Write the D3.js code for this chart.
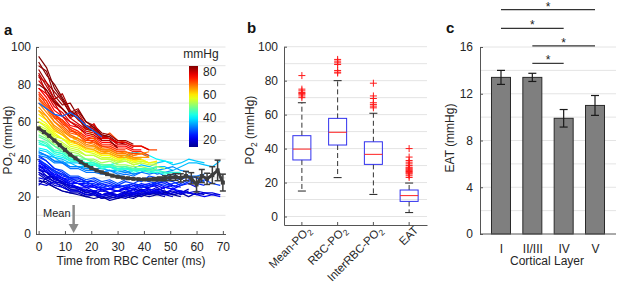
<!DOCTYPE html>
<html>
<head>
<meta charset="utf-8">
<script src="https://cdn.jsdelivr.net/npm/d3@7"></script>
<style>
  body { margin: 0; background: #fff; }
  svg { font-family: "Liberation Sans", Arial, sans-serif; }
</style>
</head>
<body>
<svg id="chart"></svg>
<script>
// ---- panel a: single-vessel PO2 traces vs time from RBC centre ----
const traceStep = 3; // ms between samples
// colour value (mmHg) of each trace, same order as traces
const traceLevel = [
  20, 16, 18, 17, 22, 19, 24, 23, 21, 22, 20, 19, 18, 27, 28, 25, 21, 23, 24, 26, 15, 20,
  37, 36, 33, 32, 40, 31,
  52, 49, 47, 46, 45, 44, 43,
  60, 58, 56, 57, 55, 54,
  76, 74, 73, 72, 70, 68, 67, 66, 65, 64, 71,
  88, 86, 84, 83, 82, 80, 79, 81, 85, 78,
  30
];
const traces = [
  [30,29,26,25,23,23,21,22,20,21,20,22,21,23,22,22,21,22,23,22,23,22,22,21],
  [26,30,31,27,26,25,22,23,21,22,20,21,20,22,22,24,23,21,22,20,22,21],
  [32,29,27,26,23,23,21,21,19,20,19,21,21,20,22,22,23,21,22,24],
  [28,28,25,23,22,22,20,21,19,20,19,21,20,21,22,21,20],
  [35,33,29,28,25,25,23,23,21,22,21,22,21,23,22,23,22,24,22,22,21,20,21,20],
  [33,30,28,27,24,23,21,22,20,19,20,19,21,22,21,23,21,20],
  [40,36,34,31,30,28,28,26,27,25,26,25,27,26,25,27,28,26,25],
  [38,36,33,30,29,27,27,25,25,24,25,24,26,25,26,27,25,24,26,27,25],
  [37,33,31,29,27,27,25,25,23,24,23,25,24,26,24,23,25,26],
  [36,34,30,28,27,25,25,23,24,22,23,24,23,25,25,26,24],
  [35,31,30,27,26,24,24,22,23,22,23,22,24,23,25],
  [34,33,29,28,25,25,23,23,21,22,21,23,22,24,23,25,22,23,21,23],
  [33,31,28,27,24,24,22,23,21,21,20,22,22,24,21,22,21],
  [39,37,33,32,30,30,28,29,27,28,26,28,27,29,28,27,29,28,26,28,27,29,27,26],
  [41,39,35,34,31,31,29,30,28,29,27,29,30,28,31,30,28,30,29,31,30,28],
  [42,39,35,33,30,30,28,28,26,27,25,26,25,27,26,28,27,25,27,29,27,26],
  [36,35,31,29,26,25,23,23,21,22,20,22,21,23,22,24],
  [39,35,32,30,28,27,25,26,24,24,23,24,22,23,24,23,25,24,23,22],
  [37,35,31,30,27,27,26,25,25,24,26,25,24,26,27,25],
  [40,37,34,32,29,29,27,27,25,26,25,26,27,25,26,27,26,27,28],
  [29,27,25,23,22,21,20,19,20,18,19,20,19,21,20,21,22,21,20],
  [27,26,28,25,23,23,21,21,20,21,21,20,22,21,23,22,21,22,23,22,21,22,21,21],

  [45,44,41,40,38,38,36,37,35,36,34,35,35,37,36,38,39,37,38,40,39,38],
  [44,42,41,38,38,36,36,35,35,34,34,33,34,35,34,36,36,34,36,38,38,37,36,39],
  [43,42,39,39,36,36,35,35,33,34,33,34,32,33,35,34,35,36,34,33],
  [42,41,38,38,36,36,34,34,33,34,32,33,32,33,34,32,33,34],
  [46,45,42,41,39,39,37,37,36,37,38,41,44,43,42,40,39,38],
  [44,42,39,38,35,35,33,33,32,32,31,32,31,33,32,33,31,32,30,31,31,32],

  [55,52,48,47,44,43,40,40,38,39,37,37,36,36,35,36,35],
  [53,51,47,45,42,42,40,39,37,37,36,36,35,35,34,35],
  [52,50,47,44,42,40,40,38,37,37,36,36,35,35,34],
  [50,49,45,44,41,40,38,38,36,37,35,36,34,35,34,34,33],
  [50,48,44,43,40,39,38,37,36,36,35,35,34,35,35,36],
  [48,47,43,42,39,39,37,37,35,36,34,35,34,34,33,34,33,33],
  [49,47,44,43,40,40,38,38,36,36,35,35,33,34,33,33,32,33,33],

  [64,61,55,53,49,48,45,45,42,42,40,41,39,40,38,39],
  [62,59,54,51,48,47,44,44,42,42,40,40,39,39,38],
  [60,57,52,51,47,46,44,43,41,41,39,40,38,39,38,38],
  [60,58,53,51,49,52,58,51,46,44,42,42,40,40,38],
  [58,56,51,49,46,45,42,42,40,40,39,39,37,38,37,37],
  [57,55,50,48,45,44,42,42,40,40,38,39,37,38],

  [78,73,66,63,58,57,53,52,49,49,47,47,45,45],
  [76,71,64,61,57,55,52,51,48,48,46,46,44,44,42],
  [75,69,64,59,56,53,50,50,47,47,45,45],
  [74,71,62,61,55,54,51,49,47,46,44,44,43,43],
  [72,67,62,58,54,53,49,49,46,46,44,44,42,43,41],
  [70,67,60,57,53,51,49,48,45,45,43,43,41],
  [70,65,60,56,52,51,48,47,45,45,43,44,42,43,44],
  [68,63,58,55,52,50,47,47,44,44,42,42,41,41],
  [66,63,57,54,50,49,46,46,44,43,41,42,40,41,41],
  [66,61,56,53,50,48,46,45,43,43,41,41,40,40],
  [73,68,63,60,56,54,51,51,51,54,50,49,47,47,45,45],

  [95,89,78,72,64,62,56,55,50,50,46],
  [92,85,80,73,66,63,58,56,52,51,49,48],
  [90,87,74,69,70,63,57,55,52,52],
  [88,81,76,71,65,67,60,58,54,53,50,50,48],
  [86,79,72,75,66,61,58,57,53,52],
  [84,81,72,67,62,65,58,56,52,51,48],
  [82,77,70,67,62,59,56,59,52,51,48,48,46],
  [85,75,70,63,60,57,54,53,50,50],
  [80,77,71,67,63,66,60,57,53,52,49,49],
  [78,75,68,65,60,58,55,54,51,51,49,49,47,47,45],

  [70,67,64,63,65,62,58,55,52]
];
const meanTime = [0,2,4,6,8,10,12,14,16,18,20,22,24,26,28,30,32,34,36,38,40,42,44,46,48,50,52,54,56,58,60,62,64,66,68,70];
const meanPO2 = [56.5,54.5,52.5,50,47.5,45,42.5,40.5,38.5,36.8,35.3,34,33,32,31.2,30.6,30.1,29.8,29.5,29.3,29.2,29.2,29.3,29.5,29.8,30.2,30.5,30,31,29.8,26.5,31,29.5,31.5,34,27.5];
const meanErr = [0.3,0.3,0.3,0.3,0.3,0.3,0.3,0.3,0.3,0.3,0.3,0.3,0.3,0.3,0.3,0.4,0.4,0.4,0.4,0.5,0.5,0.6,0.8,1,1.3,1.6,1.8,2.2,2.5,3,4,3.5,3,4.5,5.5,4.5];
const meanEAT = 13.3;
const colorbarTicks = [20, 40, 60, 80];
const cbMin = 14, cbMax = 85;

// ---- panel b: box plots ----
const boxNames = ["Mean-PO_2", "RBC-PO_2", "InterRBC-PO_2", "EAT"];
const boxMedian = [39.7, 49.6, 36.6, 12.3];
const boxQ1 = [33.3, 42.1, 30.7, 8.9];
const boxQ3 = [47.6, 57.8, 44, 15.6];
const boxLow = [15, 22.9, 13, 2.3];
const boxHigh = [67, 80, 60.8, 19.7];
const boxOutliers = [
  [70, 71, 72, 72.5, 73, 74, 75, 83],
  [84.5, 85, 86, 89.5, 90.5, 91.5, 92.5],
  [64, 65, 66, 67, 69.5, 71, 78.5],
  [23, 24, 25, 25.5, 26, 26.5, 27, 27.5, 28, 28.5, 29, 30, 31, 32, 33, 35, 40]
];

// ---- panel c: EAT by cortical layer ----
const layers = ["I", "II/III", "IV", "V"];
const eatMean = [13.4, 13.4, 9.9, 11.0];
const eatErr = [0.6, 0.35, 0.75, 0.85];
const sigPairs = [["I", "V"], ["I", "IV"], ["II/III", "V"], ["II/III", "IV"]];
const sigHeight = [19.2, 17.6, 16.1, 14.6];

const W = 617, H = 287;
const textColor = "#262626", axisColor = "#555", gridColor = "#e4e4e4";
const svg = d3.select("#chart").attr("width", W).attr("height", H);

function styleAxis(g) {
  g.select(".domain").attr("stroke", axisColor);
  g.selectAll(".tick line").attr("stroke", axisColor);
  g.selectAll(".tick text").attr("fill", textColor).attr("font-size", 12);
}

// writes "PO_2" style labels with a real subscript
function addSub(text, str) {
  const parts = str.split("_2");
  text.append("tspan").text(parts[0]);
  if (parts.length > 1) {
    text.append("tspan").attr("font-size", "8.5px").attr("dy", 3).text("2");
    if (parts[1]) text.append("tspan").attr("dy", -3).text(parts[1]);
  }
}

function yLabel(x, y, str) {
  const t = svg.append("text")
    .attr("transform", `translate(${x},${y}) rotate(-90)`)
    .attr("text-anchor", "middle")
    .attr("font-size", 12)
    .attr("fill", textColor);
  addSub(t, str);
}

function grid(g, values, xs, ys) {
  g.selectAll(null).data(values).enter().append("line")
    .attr("x1", xs.range()[0]).attr("x2", xs.range()[1])
    .attr("y1", d => ys(d)).attr("y2", d => ys(d))
    .attr("stroke", gridColor);
}

// panel labels
[["a", 4, 35], ["b", 247, 33], ["c", 446, 33]].forEach(([s, x, y]) => {
  svg.append("text").attr("x", x).attr("y", y).attr("font-size", 15)
    .attr("font-weight", "bold").attr("fill", "#111").text(s);
});

// ================= panel a =================
const xA = d3.scaleLinear().domain([-1, 71]).range([36, 225.5]);
const yA = d3.scaleLinear().domain([0, 100]).range([234, 47]);
const gA = svg.append("g");
grid(gA, d3.range(10, 101, 10), xA, yA);

const jet = d3.scaleLinear()
  .domain([0, 0.125, 0.375, 0.625, 0.875, 1].map(f => cbMin + f * (cbMax - cbMin)))
  .range(["#00008f", "#0000ff", "#00ffff", "#ffff00", "#ff0000", "#800000"])
  .clamp(true);

const traceLine = d3.line().x((d, i) => xA(i * traceStep)).y(d => yA(d));
gA.selectAll(".trace").data(traces).enter().append("path")
  .attr("class", "trace")
  .attr("d", traceLine)
  .attr("fill", "none")
  .attr("stroke", (d, i) => jet(traceLevel[i]))
  .attr("stroke-width", 1.2)
  .attr("stroke-linejoin", "round");

// mean curve with error bars
const meanColor = "#3d3d3d";
gA.append("path").datum(meanPO2)
  .attr("d", d3.line().x((d, i) => xA(meanTime[i])).y(d => yA(d)))
  .attr("fill", "none").attr("stroke", meanColor).attr("stroke-width", 3);
const eb = gA.selectAll(".eb").data(meanPO2).enter().append("g")
  .attr("transform", (d, i) => `translate(${xA(meanTime[i])},0)`);
eb.append("line").attr("y1", (d, i) => yA(d - meanErr[i])).attr("y2", (d, i) => yA(d + meanErr[i]))
  .attr("stroke", meanColor).attr("stroke-width", 1.5);
eb.each(function(d, i) {
  if (meanErr[i] <= 0.6) return;
  [d - meanErr[i], d + meanErr[i]].forEach(v => {
    d3.select(this).append("line").attr("x1", -3).attr("x2", 3)
      .attr("y1", yA(v)).attr("y2", yA(v)).attr("stroke", meanColor).attr("stroke-width", 1.5);
  });
});
eb.append("rect").attr("x", -2).attr("width", 4).attr("height", 4)
  .attr("y", d => yA(d) - 2).attr("fill", meanColor);

const axA = gA.append("g").attr("transform", `translate(0,${yA(0)})`)
  .call(d3.axisBottom(xA).tickValues(d3.range(0, 71, 10)).tickSizeInner(-3).tickSizeOuter(0).tickPadding(8));
styleAxis(axA);
const ayA = gA.append("g").attr("transform", `translate(${xA(-1)},0)`)
  .call(d3.axisLeft(yA).tickValues(d3.range(0, 101, 20)).tickSizeInner(-3).tickSizeOuter(0).tickPadding(5));
styleAxis(ayA);

svg.append("text").attr("x", 131).attr("y", 265).attr("text-anchor", "middle")
  .attr("font-size", 12).attr("fill", textColor).text("Time from RBC Center (ms)");
yLabel(12, 140, "PO_2 (mmHg)");

// Mean arrow
const ax = xA(meanEAT);
gA.append("line").attr("x1", ax).attr("x2", ax).attr("y1", 205).attr("y2", 226)
  .attr("stroke", "#8a8a8a").attr("stroke-width", 2.5);
gA.append("path").attr("d", `M${ax - 5},224L${ax + 5},224L${ax},233Z`).attr("fill", "#8a8a8a");
gA.append("text").attr("x", 43).attr("y", 217).attr("font-size", 11)
  .attr("fill", textColor).text("Mean");

// colour bar
const cbY = d3.scaleLinear().domain([cbMin, cbMax]).range([147, 66]);
const grad = svg.append("defs").append("linearGradient").attr("id", "jetGrad")
  .attr("x1", 0).attr("y1", 1).attr("x2", 0).attr("y2", 0);
d3.range(0, 1.0001, 0.05).forEach(f => grad.append("stop")
  .attr("offset", f).attr("stop-color", jet(cbMin + f * (cbMax - cbMin))));
svg.append("rect").attr("x", 189).attr("y", cbY(cbMax)).attr("width", 9)
  .attr("height", cbY(cbMin) - cbY(cbMax)).attr("fill", "url(#jetGrad)");
svg.selectAll(".cbt").data(colorbarTicks).enter().append("text")
  .attr("x", 203).attr("y", d => cbY(d)).attr("dy", "0.35em")
  .attr("font-size", 12).attr("fill", textColor).text(d => d);
svg.append("text").attr("x", 201).attr("y", 58).attr("text-anchor", "middle")
  .attr("font-size", 12).attr("fill", textColor).text("mmHg");

// ================= panel b =================
const xB = d3.scaleBand().domain(boxNames).range([284, 427]);
const yB = d3.scaleLinear().domain([-5, 100]).range([225, 46.7]);
const gB = svg.append("g");
grid(gB, d3.range(0, 101, 10), xB, yB);
const cx = d => xB(d) + xB.bandwidth() / 2;
const bw = 18;

const boxes = gB.selectAll(".box").data(boxNames).enter().append("g")
  .attr("transform", d => `translate(${cx(d)},0)`);
boxes.append("line").attr("y1", (d, i) => yB(boxQ3[i])).attr("y2", (d, i) => yB(boxHigh[i]))
  .attr("stroke", "#333").attr("stroke-dasharray", "5,3");
boxes.append("line").attr("y1", (d, i) => yB(boxQ1[i])).attr("y2", (d, i) => yB(boxLow[i]))
  .attr("stroke", "#333").attr("stroke-dasharray", "5,3");
[boxHigh, boxLow].forEach(arr => {
  boxes.append("line").attr("x1", -4).attr("x2", 4)
    .attr("y1", (d, i) => yB(arr[i])).attr("y2", (d, i) => yB(arr[i])).attr("stroke", "#222");
});
boxes.append("rect").attr("x", -bw / 2).attr("width", bw)
  .attr("y", (d, i) => yB(boxQ3[i])).attr("height", (d, i) => yB(boxQ1[i]) - yB(boxQ3[i]))
  .attr("fill", "none").attr("stroke", "#3030ee");
boxes.append("line").attr("x1", -bw / 2).attr("x2", bw / 2)
  .attr("y1", (d, i) => yB(boxMedian[i])).attr("y2", (d, i) => yB(boxMedian[i]))
  .attr("stroke", "#ff2020");
boxes.each(function(d, i) {
  d3.select(this).selectAll(".out").data(boxOutliers[i]).enter().append("path")
    .attr("d", v => `M-3.5,${yB(v)}H3.5M0,${yB(v) - 3.5}V${yB(v) + 3.5}`)
    .attr("stroke", "#ff1a1a").attr("stroke-width", 1);
});

const axB = gB.append("g").attr("transform", `translate(0,${yB(-5)})`)
  .call(d3.axisBottom(xB).tickSizeInner(-3).tickSizeOuter(0).tickFormat(""));
styleAxis(axB);
const ayB = gB.append("g").attr("transform", `translate(${xB.range()[0]},0)`)
  .call(d3.axisLeft(yB).tickValues(d3.range(0, 101, 20)).tickSizeInner(-3).tickSizeOuter(0).tickPadding(6));
styleAxis(ayB);
boxNames.forEach(name => {
  const t = gB.append("text")
    .attr("transform", `translate(${cx(name) + 7},${yB(-5) + 3}) rotate(-45)`)
    .attr("text-anchor", "end").attr("dy", "0.35em")
    .attr("font-size", 11.5).attr("fill", textColor);
  addSub(t, name);
});
yLabel(254, 130, "PO_2 (mmHg)");

// ================= panel c =================
const xC = d3.scalePoint().domain(layers).range([480, 616]).padding(0.67);
const yC = d3.scaleLinear().domain([0, 16]).range([234, 47]);
const gC = svg.append("g");
grid(gC, d3.range(2, 17, 2), xC, yC);
const barW = 19;
gC.selectAll(".bar").data(eatMean).enter().append("rect")
  .attr("x", (d, i) => xC(layers[i]) - barW / 2).attr("width", barW)
  .attr("y", d => yC(d)).attr("height", d => yC(0) - yC(d))
  .attr("fill", "#7f7f7f").attr("stroke", "#2a2a2a").attr("stroke-width", 1);
const ebC = gC.selectAll(".ebc").data(eatMean).enter().append("g")
  .attr("transform", (d, i) => `translate(${xC(layers[i])},0)`);
ebC.append("line").attr("y1", (d, i) => yC(d - eatErr[i])).attr("y2", (d, i) => yC(d + eatErr[i]))
  .attr("stroke", "#1a1a1a").attr("stroke-width", 1.2);
[-1, 1].forEach(s => {
  ebC.append("line").attr("x1", -4).attr("x2", 4)
    .attr("y1", (d, i) => yC(d + s * eatErr[i])).attr("y2", (d, i) => yC(d + s * eatErr[i]))
    .attr("stroke", "#1a1a1a").attr("stroke-width", 1.2);
});

const axC = gC.append("g").attr("transform", `translate(0,${yC(0)})`)
  .call(d3.axisBottom(xC).tickSize(0).tickPadding(10));
styleAxis(axC);
axC.select(".domain").attr("d", `M480,0H616`);
const ayC = gC.append("g").attr("transform", "translate(480,0)")
  .call(d3.axisLeft(yC).tickValues(d3.range(0, 17, 4)).tickSizeInner(-3).tickSizeOuter(0).tickPadding(7));
styleAxis(ayC);
svg.append("text").attr("x", 547).attr("y", 265).attr("text-anchor", "middle")
  .attr("font-size", 12).attr("fill", textColor).text("Cortical Layer");
yLabel(454, 138, "EAT (mmHg)");

sigPairs.forEach((p, i) => {
  const y = yC(sigHeight[i]);
  gC.append("line").attr("x1", xC(p[0])).attr("x2", xC(p[1])).attr("y1", y).attr("y2", y)
    .attr("stroke", "#333").attr("stroke-width", 1.2);
  gC.append("text").attr("x", (xC(p[0]) + xC(p[1])) / 2).attr("y", y + 1)
    .attr("text-anchor", "middle").attr("font-size", 12).attr("fill", "#222").text("*");
});
</script>
</body>
</html>
